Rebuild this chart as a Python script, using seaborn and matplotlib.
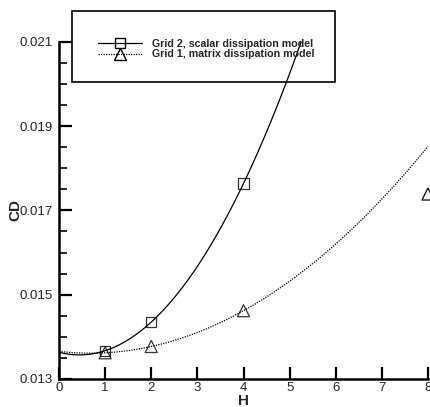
import numpy as np
import pandas as pd
import matplotlib
matplotlib.use("Agg")
import matplotlib.pyplot as plt
from matplotlib.lines import Line2D
from matplotlib.patches import Rectangle
from matplotlib.ticker import MultipleLocator, FormatStrFormatter
import seaborn as sns

# values
h_grid2 = [1, 2, 4]
cd_grid2 = [0.01367, 0.01435, 0.01764]

h_grid1 = [1, 2, 4]
cd_grid1 = [0.01362, 0.01377, 0.01462]

# extra point, not part of the fit
h_grid1_extra = [8]
cd_grid1_extra = [0.01739]

label_grid2 = "Grid 2, scalar dissipation model"
label_grid1 = "Grid 1, matrix dissipation model"

sns.set_style("white")
plt.rcParams["font.family"] = ["Liberation Sans", "DejaVu Sans"]

fig = plt.figure(figsize=(4.31, 4.07), dpi=100)
ax = fig.add_axes([0.137, 0.069, 0.856, 0.828])
ax.set_xlim(0, 8)
ax.set_ylim(0.013, 0.021)

df2 = pd.DataFrame({"H": h_grid2, "CD": cd_grid2})
df1 = pd.DataFrame({"H": h_grid1, "CD": cd_grid1})

# quadratic fits, extended over the whole x range
sns.regplot(data=df2, x="H", y="CD", order=2, ci=None, truncate=False, ax=ax, marker="s",
            scatter_kws=dict(s=55, facecolors="none", edgecolors="black",
                             linewidths=0.9, zorder=3),
            line_kws=dict(color="black", lw=0.9))
sns.regplot(data=df1, x="H", y="CD", order=2, ci=None, truncate=False, ax=ax, marker="^",
            scatter_kws=dict(s=75, facecolors="none", edgecolors="black",
                             linewidths=0.9, zorder=3),
            line_kws=dict(color="black", lw=0.9, linestyle=(0, (1, 1))))
ax.scatter(h_grid1_extra, cd_grid1_extra, marker="^", s=75, facecolors="none",
           edgecolors="black", linewidths=0.9, zorder=3, clip_on=False)

ax.set_xlim(0, 8)
ax.set_ylim(0.013, 0.021)
ax.xaxis.set_major_locator(MultipleLocator(1))
ax.yaxis.set_major_locator(MultipleLocator(0.002, offset=0.001))
ax.yaxis.set_minor_locator(MultipleLocator(0.0005))
ax.yaxis.set_major_formatter(FormatStrFormatter("%.3f"))

for s in ["top", "right"]:
    ax.spines[s].set_visible(False)
for s in ["left", "bottom"]:
    ax.spines[s].set_linewidth(1.8)
    ax.spines[s].set_color("black")
ax.tick_params(which="major", direction="in", length=9, width=1.6, labelsize=9.5,
               color="black", left=True, bottom=True)
ax.tick_params(which="minor", direction="in", length=6, width=1.2, color="black", left=True)
ax.tick_params(axis="y", pad=4.3)
ax.tick_params(axis="x", pad=2)

ax.set_xlabel("H", fontsize=11, fontweight="bold", labelpad=0)
ax.set_ylabel("CD", fontsize=11, fontweight="bold", labelpad=-1.5)

# legend box
fig.patches.append(Rectangle((0.167, 0.7985), 0.610, 0.1744, transform=fig.transFigure,
                             fill=False, edgecolor="black", lw=1.2, zorder=5))
handles = [
    Line2D([], [], color="black", lw=0.9, marker="s", markersize=7,
           markerfacecolor="none", markeredgecolor="black"),
    Line2D([], [], color="black", lw=0.9, linestyle=(0, (1, 1)), marker="^", markersize=8.5,
           markerfacecolor="none", markeredgecolor="black"),
]
fig.legend(handles, [label_grid2, label_grid1], loc="upper left",
           bbox_to_anchor=(0.214, 0.918), frameon=False, borderpad=0,
           handlelength=4.2, handletextpad=0.85, labelspacing=0.05,
           prop=dict(weight="bold", size=7.7))

fig.savefig("out.png", dpi=100)
